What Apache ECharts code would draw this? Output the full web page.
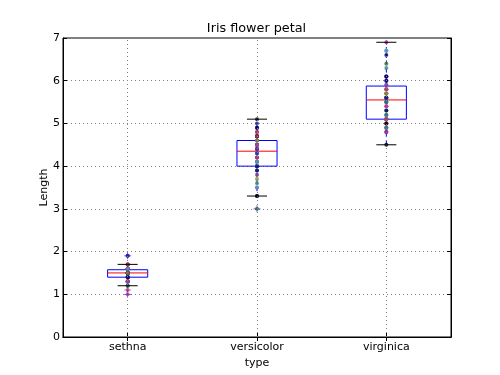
<!DOCTYPE html>
<html><head><meta charset="utf-8">
<script src="https://cdn.jsdelivr.net/npm/echarts@6/dist/echarts.min.js"></script>
<style>html,body{margin:0;padding:0;background:#fff}#c{width:500px;height:375px}</style>
</head><body><div id="c"></div>
<script>
var categories = ['sethna', 'versicolor', 'virginica'];
// [lower whisker, Q1, median, Q3, upper whisker]
var boxStats = [
  [1.2, 1.4, 1.5, 1.575, 1.7],
  [3.3, 4.0, 4.35, 4.6, 5.1],
  [4.5, 5.1, 5.55, 5.875, 6.9]
];
var fliers = [[0, 1.0], [0, 1.1], [0, 1.9], [1, 3.0]];
var setosa = [1.4,1.4,1.3,1.5,1.4,1.7,1.4,1.5,1.4,1.5,1.5,1.6,1.4,1.1,1.2,1.5,1.3,1.4,1.7,1.5,1.7,1.5,1.0,1.7,1.9,1.6,1.6,1.5,1.4,1.6,1.6,1.5,1.5,1.4,1.5,1.2,1.3,1.4,1.3,1.5,1.3,1.3,1.3,1.6,1.9,1.4,1.6,1.4,1.5,1.4];
var versicolor = [4.7,4.5,4.9,4.0,4.6,4.5,4.7,3.3,4.6,3.9,3.5,4.2,4.0,4.7,3.6,4.4,4.5,4.1,4.5,3.9,4.8,4.0,4.9,4.7,4.3,4.4,4.8,5.0,4.5,3.5,3.8,3.7,3.9,5.1,4.5,4.5,4.7,4.4,4.1,4.0,4.4,4.6,4.0,3.3,4.2,4.2,4.2,4.3,3.0,4.1];
var virginica = [6.0,5.1,5.9,5.6,5.8,6.6,4.5,6.3,5.8,6.1,5.1,5.3,5.5,5.0,5.1,5.3,5.5,6.7,6.9,5.0,5.7,4.9,6.7,4.9,5.7,6.0,4.8,4.9,5.6,5.8,6.1,6.4,5.6,5.1,5.6,6.1,5.6,5.5,4.8,5.4,5.6,5.1,5.1,5.9,5.7,5.2,5.0,5.2,5.4,5.1];
var yTicks = [0, 1, 2, 3, 4, 5, 6, 7];
var pointColors = ['#000000', '#7a2a9a', '#1f1fb4', '#2a8a8a', '#8a8a2a', '#2a6a2a', '#b42ab4', '#000060', '#5a9ad0', '#c03060'];

var groups = [setosa, versicolor, virginica];
var points = [];
groups.forEach(function (arr, gi) {
  arr.forEach(function (v, i) {
    points.push({ value: [gi, v], itemStyle: { color: pointColors[(i * 3 + gi) % pointColors.length] } });
  });
});

var font = 'DejaVu Sans';
var chart = echarts.init(document.getElementById('c'), null, { renderer: 'canvas' });

function renderBox(params, api) {
  var ci = api.value(0);
  var lo = api.coord([ci, api.value(1)]);
  var q1 = api.coord([ci, api.value(2)]);
  var med = api.coord([ci, api.value(3)]);
  var q3 = api.coord([ci, api.value(4)]);
  var hi = api.coord([ci, api.value(5)]);
  var bw = api.size([1, 0])[0] * 0.31;
  var cx = lo[0];
  return {
    type: 'group',
    children: [
      { type: 'line', shape: { x1: cx, y1: q3[1], x2: cx, y2: hi[1] }, style: { stroke: '#0000ff', lineWidth: 1, lineDash: [4, 3] } },
      { type: 'line', shape: { x1: cx, y1: q1[1], x2: cx, y2: lo[1] }, style: { stroke: '#0000ff', lineWidth: 1, lineDash: [4, 3] } },
      { type: 'rect', shape: { x: cx - bw / 2, y: q3[1], width: bw, height: q1[1] - q3[1] }, style: { fill: 'none', stroke: '#0000ff', lineWidth: 1 } },
      { type: 'line', shape: { x1: cx - bw / 2, y1: med[1], x2: cx + bw / 2, y2: med[1] }, style: { stroke: '#ff0000', lineWidth: 1 } }
    ]
  };
}
function renderCaps(params, api) {
  var ci = api.value(0);
  var lo = api.coord([ci, api.value(1)]);
  var hi = api.coord([ci, api.value(5)]);
  var cw = api.size([1, 0])[0] * 0.155;
  var cx = lo[0];
  return {
    type: 'group',
    children: [
      { type: 'line', shape: { x1: cx - cw / 2, y1: hi[1], x2: cx + cw / 2, y2: hi[1] }, style: { stroke: '#000', lineWidth: 1 } },
      { type: 'line', shape: { x1: cx - cw / 2, y1: lo[1], x2: cx + cw / 2, y2: lo[1] }, style: { stroke: '#000', lineWidth: 1 } }
    ]
  };
}
var boxData = boxStats.map(function (b, i) { return [i].concat(b); });

var textStyle = { fontFamily: font, fontSize: 11, color: '#000' };
chart.setOption({
  animation: false,
  graphic: [{
    type: 'text', x: 256.5, y: 29,
    style: { text: 'Iris flower petal', font: '12.8px "DejaVu Sans"', fill: '#000', align: 'center', verticalAlign: 'middle' }
  }],
  grid: { left: 63, right: 49, top: 38, bottom: 38, show: true, borderColor: '#000', borderWidth: 1 },
  xAxis: [{
    type: 'category', data: categories, boundaryGap: true, position: 'bottom',
    name: 'type', nameLocation: 'middle', nameGap: 21, nameMoveOverlap: false, nameTextStyle: textStyle,
    axisLine: { show: true, lineStyle: { color: '#000' } },
    axisTick: { show: true, alignWithLabel: true, inside: true, length: 4, lineStyle: { color: '#000' } },
    axisLabel: Object.assign({ margin: 5 }, textStyle),
    splitLine: { show: false }
  }, {
    type: 'category', data: categories, boundaryGap: true, position: 'top',
    axisLine: { show: true, lineStyle: { color: '#000' } },
    axisTick: { show: true, alignWithLabel: true, inside: true, length: 4, lineStyle: { color: '#000' } },
    axisLabel: { show: false }, splitLine: { show: false }
  }],
  yAxis: [{
    type: 'value', min: 0, max: 7, interval: 1, position: 'left',
    name: 'Length', nameLocation: 'middle', nameGap: 13, nameMoveOverlap: false, nameRotate: 90, nameTextStyle: textStyle,
    axisLine: { show: true, lineStyle: { color: '#000' } },
    axisTick: { show: true, inside: true, length: 4, lineStyle: { color: '#000' } },
    axisLabel: Object.assign({ margin: 3, formatter: function (v) { return yTicks.indexOf(v) >= 0 ? String(v) : ''; } }, textStyle),
    splitLine: { show: true, lineStyle: { color: '#808080', type: [1, 3], width: 1 } }
  }, {
    type: 'value', min: 0, max: 7, interval: 1, position: 'right',
    axisLine: { show: true, lineStyle: { color: '#000' } },
    axisTick: { show: true, inside: true, length: 4, lineStyle: { color: '#000' } },
    axisLabel: { show: false }, splitLine: { show: false }
  }],
  series: [{
    type: 'custom', renderItem: renderBox, data: boxData, z: 2,
    encode: { x: 0, y: [1, 2, 3, 4, 5] },
    markLine: {
      silent: true, symbol: ['none', 'none'], label: { show: false },
      lineStyle: { color: '#808080', type: [1, 3], width: 1 },
      data: categories.map(function (c) { return { xAxis: c }; })
    }
  }, {
    type: 'scatter', data: fliers, symbol: 'path://M0,4.5L10,4.5L10,5.5L0,5.5ZM4.5,0L5.5,0L5.5,10L4.5,10Z',
    symbolSize: 7, itemStyle: { color: '#0000ff' }, z: 3
  }, {
    type: 'scatter', data: points, symbol: 'circle', symbolSize: 4, z: 4
  }, {
    type: 'custom', renderItem: renderCaps, data: boxData, z: 5,
    encode: { x: 0, y: [1, 5] }
  }]
});
</script>
</body></html>
